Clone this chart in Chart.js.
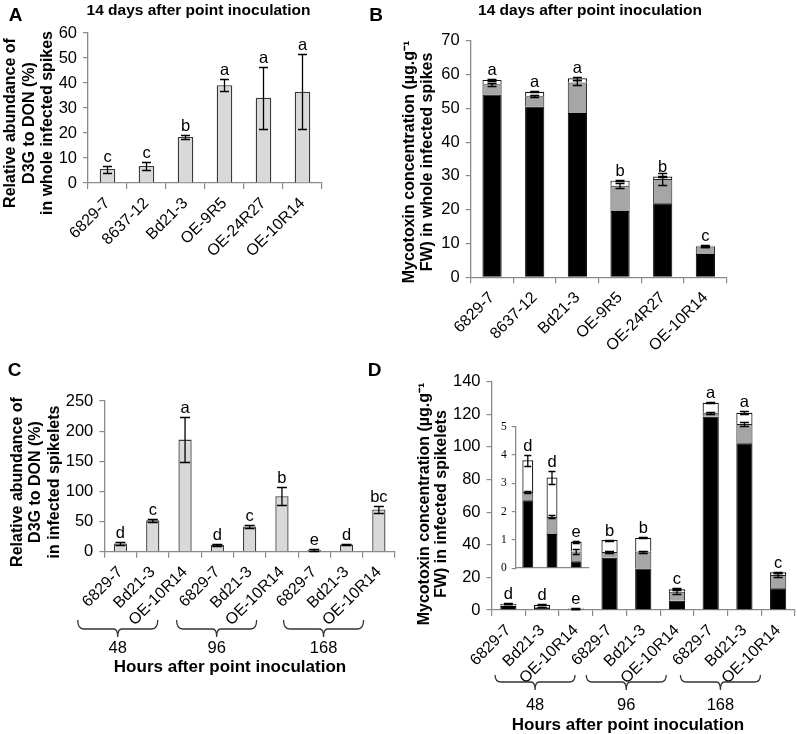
<!DOCTYPE html>
<html><head><meta charset="utf-8">
<script src="https://cdn.jsdelivr.net/npm/chart.js@4/dist/chart.umd.min.js"></script>
<style>
html,body{margin:0;padding:0;background:#fff;}
#wrap{position:relative;width:797px;height:734px;overflow:hidden;font-family:'Liberation Sans',Arial,sans-serif;}
canvas{position:absolute;}
.lbl{position:absolute;transform:translate(-50%,-50%);line-height:1;white-space:nowrap;font-weight:bold;color:#000;}
</style></head><body>
<div id="wrap">
  <canvas id="cA" width="330" height="260" style="left:0;top:0"></canvas>
  <canvas id="cB" width="397" height="370" style="left:400px;top:0"></canvas>
  <canvas id="cC" width="400" height="360" style="left:0;top:330px"></canvas>
  <canvas id="cD" width="397" height="404" style="left:400px;top:330px"></canvas>
  <canvas id="cI" width="115" height="170" style="left:480px;top:410px"></canvas>
  <div class="lbl" style="left:15.5px;top:13.5px;font-size:19px">A</div>
  <div class="lbl" style="left:376px;top:13.5px;font-size:19px">B</div>
  <div class="lbl" style="left:14.5px;top:368.5px;font-size:19px">C</div>
  <div class="lbl" style="left:374.5px;top:368.5px;font-size:19px">D</div>
  <div class="lbl" style="left:198.5px;top:10px;font-size:15.5px">14 days after point inoculation</div>
  <div class="lbl" style="left:590px;top:10px;font-size:15.5px">14 days after point inoculation</div>
</div>
<script>
// ---------- DATA ----------
const catsA = ['6829-7','8637-12','Bd21-3','OE-9R5','OE-24R27','OE-10R14'];
const valsA = [5.6, 6.8, 18.4, 39.1, 34.1, 36.5];
const errA  = [1.4, 1.6, 0.8, 2.4, 12.4, 15.0];
const letA  = ['c','c','b','a','a','a'];

const catsB = ['6829-7','8637-12','Bd21-3','OE-9R5','OE-24R27','OE-10R14'];
const blackB = [54.1, 50.5, 48.6, 19.6, 21.9, 6.9];
const greyB  = [3.0, 3.1, 9.0, 7.5, 7.2, 2.2];
const whiteB = [1.3, 1.3, 1.3, 1.5, 0.7, 0.2];
const errGreyB  = [0.4, 0.3, 0.7, 0.8, 1.8, 0.2];
const errWhiteB = [0.2, 0.2, 0.5, 0.2, 0.2, 0.2];
const letB = ['a','a','a','b','b','c'];

const catsC = ['6829-7','Bd21-3','OE-10R14','6829-7','Bd21-3','OE-10R14','6829-7','Bd21-3','OE-10R14'];
const valsC = [13.8, 52, 186, 11, 42, 92, 2.8, 12, 70];
const errC  = [2, 2, 38, 1.5, 3, 15, 1, 1.5, 6.5];
const letC  = ['d','c','a','d','c','b','e','d','bc'];

const catsD = ['6829-7','Bd21-3','OE-10R14','6829-7','Bd21-3','OE-10R14','6829-7','Bd21-3','OE-10R14'];
const blackD = [2.4, 1.21, 0.24, 32.1, 25.5, 5.7, 118.5, 102.2, 13.3];
const greyD  = [0.29, 0.6, 0.35, 3.5, 10.3, 5.5, 2.4, 11.8, 8.2];
const whiteD = [1.12, 1.39, 0.34, 7.3, 8.5, 1.5, 6.2, 7.0, 1.6];
const errGreyD  = [0.05, 0.05, 0.08, 0.5, 0.6, 1.5, 0.5, 1.2, 1.3];
const errWhiteD = [0.2, 0.22, 0.04, 0.3, 0.3, 0.5, 0.3, 1.0, 0.4];
const letD = ['d','d','e','b','b','c','a','a','c'];

const catsInset = ['6829-7','Bd21-3','OE-10R14'];
const blackI = blackD.slice(0,3), greyI = greyD.slice(0,3), whiteI = whiteD.slice(0,3);
const errGreyI = errGreyD.slice(0,3), errWhiteI = errWhiteD.slice(0,3);
const letI = letD.slice(0,3);

const groups = ['48','96','168'];
const groupMid = [1,4,7];
const xTitle = 'Hours after point inoculation';
const yTitleA = ['Relative abundance of', 'D3G to DON (%)', 'in whole infected spikes'];
const yTitleB = ['Mycotoxin concentration (\u00b5g.g\u207b\u00b9', 'FW) in whole infected spikes'];
const yTitleC = ['Relative abundance of', 'D3G to DON (%)', 'in infected spikelets'];
const yTitleD = ['Mycotoxin concentration (\u00b5g.g\u207b\u00b9', 'FW) in infected spikelets'];

// ---------- helpers ----------
Chart.defaults.font.family = "'Liberation Sans', Arial, sans-serif";
Chart.defaults.color = '#000';
Chart.defaults.animation = false;
const AX = '#8a8a8a';
const FONT = "'Liberation Sans', Arial, sans-serif";
const sumArr = (...arrs) => arrs[0].map((_, i) => arrs.reduce((s, a) => s + a[i], 0));

function scales(o) {
  return {
    x: {
      type: 'category', offset: true, stacked: !!o.stacked,
      grid: {display: true, drawOnChartArea: false, drawTicks: o.xTicks !== false, tickLength: 6, offset: true, color: AX, lineWidth: 1.2},
      border: {display: true, color: AX, width: 1.3},
      ticks: {display: o.xLabels !== false, autoSkip: false, maxRotation: 45, minRotation: 45, padding: 5, color: '#000', font: {size: 16}},
      afterFit: s => { s.height = o.xh; }
    },
    y: {
      min: 0, max: o.max, stacked: !!o.stacked,
      ticks: {stepSize: o.step, color: '#000', font: o.tickFont || {size: 16.5}, padding: o.tpadT || 6},
      grid: {display: true, drawOnChartArea: false, drawTicks: true, tickLength: o.ytl || 5, color: AX, lineWidth: 1.2},
      border: {display: true, color: AX, width: 1.3},
      title: {display: false},
      afterFit: s => { s.width = o.yw; }
    }
  };
}

function annot(cfg) {
  return {
    id: 'annot',
    afterDatasetsDraw(chart) {
      const ctx = chart.ctx, xs = chart.scales.x, ys = chart.scales.y;
      ctx.save();
      ctx.strokeStyle = '#000'; ctx.lineWidth = 1.3;
      cfg.errs.forEach(([centers, errs]) => {
        centers.forEach((c, i) => {
          const e = errs[i]; if (!e) return;
          const px = xs.getPixelForValue(i);
          const y1 = Math.round(ys.getPixelForValue(c + e)) + 0.5;
          const y2 = Math.round(ys.getPixelForValue(Math.max(c - e, 0))) + 0.5;
          ctx.beginPath();
          ctx.moveTo(px, y1); ctx.lineTo(px, y2);
          ctx.moveTo(px - cfg.cap, y1); ctx.lineTo(px + cfg.cap, y1);
          ctx.moveTo(px - cfg.cap, y2); ctx.lineTo(px + cfg.cap, y2);
          ctx.stroke();
        });
      });
      ctx.fillStyle = '#000'; ctx.font = "16.5px " + FONT;
      ctx.textAlign = 'center'; ctx.textBaseline = 'alphabetic';
      cfg.letters.forEach((t, i) => {
        ctx.fillText(t, xs.getPixelForValue(i), ys.getPixelForValue(cfg.letterAt[i]) - 4);
      });
      if (cfg.yt) {
        const t = cfg.yt;
        ctx.font = "bold 16px " + FONT;
        ctx.textBaseline = 'middle';
        t.lines.forEach((ln, k) => {
          ctx.save();
          ctx.translate(t.x[k], t.cy);
          ctx.rotate(-Math.PI / 2);
          ctx.fillText(ln, 0, 0);
          ctx.restore();
        });
      }
      if (cfg.br) {
        const b = cfg.br;
        ctx.strokeStyle = '#333'; ctx.lineWidth = 1.3;
        ctx.textBaseline = 'middle';
        groups.forEach((g, k) => {
          const xc = xs.getPixelForValue(groupMid[k]) + b.dx[k];
          const x0 = xc - b.half, x1 = xc + b.half;
          ctx.beginPath();
          ctx.moveTo(x0, b.yTop);
          ctx.quadraticCurveTo(x0, b.yLine, x0 + 6, b.yLine);
          ctx.lineTo(xc - 4, b.yLine);
          ctx.quadraticCurveTo(xc, b.yLine, xc, b.yTick);
          ctx.quadraticCurveTo(xc, b.yLine, xc + 4, b.yLine);
          ctx.lineTo(x1 - 6, b.yLine);
          ctx.quadraticCurveTo(x1, b.yLine, x1, b.yTop);
          ctx.stroke();
          ctx.font = "16.5px " + FONT;
          ctx.fillText(g, xc, b.yLabel);
        });
        ctx.font = "bold 17px " + FONT;
        ctx.fillText(xTitle, b.titleX, b.titleY);
      }
      ctx.restore();
    }
  };
}

function stackSets(bk, gr, wh) {
  return [
    {data: bk, backgroundColor: '#000', borderColor: '#000', borderWidth: 1},
    {data: gr, backgroundColor: '#a6a6a6', borderColor: '#222', borderWidth: 1, borderSkipped: 'start'},
    {data: wh, backgroundColor: '#fff', borderColor: '#111', borderWidth: 1.2, borderSkipped: 'start'}
  ];
}

function mk(id, cfg) {
  return new Chart(document.getElementById(id), {
    type: 'bar',
    data: {labels: cfg.labels, datasets: cfg.datasets},
    options: {
      responsive: false, animation: false,
      layout: {padding: cfg.pad},
      plugins: {legend: {display: false}, tooltip: {enabled: false}},
      scales: cfg.scales,
      datasets: {bar: {barPercentage: cfg.bp, categoryPercentage: 1}}
    },
    plugins: [annot(cfg.annot)]
  });
}

// ---------- A ----------
mk('cA', {
  labels: catsA,
  datasets: [{data: valsA, backgroundColor: '#d9d9d9', borderColor: '#3a3a3a', borderWidth: 1.3}],
  pad: {left: 0, top: 33, right: 8, bottom: 0}, bp: 0.4,
  scales: scales({xh: 77, yw: 88, max: 60, step: 10}),
  annot: {cap: 4.5, errs: [[valsA, errA]], letters: letA, letterAt: sumArr(valsA, errA),
    yt: {lines: yTitleA, x: [11, 29.5, 48], cy: 123}}
});

// ---------- B ----------
const greyTopB = sumArr(blackB, greyB), topB = sumArr(blackB, greyB, whiteB);
mk('cB', {
  labels: catsB,
  datasets: stackSets(blackB, greyB, whiteB),
  pad: {left: 0, top: 40.7, right: 70.3, bottom: 0}, bp: 0.45,
  scales: scales({stacked: true, xh: 92.7, yw: 70.7, max: 70, step: 10}),
  annot: {cap: 4.5, errs: [[greyTopB, errGreyB], [topB, errWhiteB]], letters: letB, letterAt: sumArr(topB, errWhiteB),
    yt: {lines: yTitleB, x: [10, 27.5], cy: 162}}
});

// ---------- C ----------
mk('cC', {
  labels: catsC,
  datasets: [{data: valsC, backgroundColor: '#d9d9d9', borderColor: '#3a3a3a', borderWidth: 1.3}],
  pad: {left: 0, top: 71, right: 5, bottom: 0}, bp: 0.41,
  scales: scales({xh: 138.3, yw: 104.3, max: 250, step: 50}),
  annot: {cap: 5, errs: [[valsC, errC]], letters: letC, letterAt: sumArr(valsC, errC),
    yt: {lines: yTitleC, x: [17.5, 36, 54.5], cy: 152},
    br: {dx: [-35, -33, -23], half: 40, yTop: 290, yLine: 299, yTick: 307, yLabel: 318, titleX: 230, titleY: 337}}
});

// ---------- D ----------
const greyTopD = sumArr(blackD, greyD), topD = sumArr(blackD, greyD, whiteD);
mk('cD', {
  labels: catsD,
  datasets: stackSets(blackD, greyD, whiteD),
  pad: {left: 0, top: 51.7, right: 2, bottom: 0}, bp: 0.48,
  scales: scales({stacked: true, xh: 124, yw: 91.5, max: 140, step: 20}),
  annot: {cap: 4.5, errs: [[greyTopD, errGreyD], [topD, errWhiteD]], letters: letD, letterAt: sumArr(topD, errWhiteD),
    yt: {lines: yTitleD, x: [25, 42], cy: 174},
    br: {dx: [-7, -17, -24], half: 40, yTop: 345, yLine: 352, yTick: 360, yLabel: 375, titleX: 228, titleY: 395}}
});

// ---------- Inset ----------
const greyTopI = sumArr(blackI, greyI), topI = sumArr(blackI, greyI, whiteI);
mk('cI', {
  labels: catsInset,
  datasets: stackSets(blackI, greyI, whiteI),
  pad: {left: 0, top: 16.7, right: 6.7, bottom: 0}, bp: 0.45,
  scales: scales({stacked: true, xh: 6, yw: 35.7, max: 5, step: 1, xLabels: false, xTicks: false, ytl: 4, tpadT: 5,
    tickFont: {family: "'Liberation Serif', 'Times New Roman', serif", size: 11.5}}),
  annot: {cap: 3.5, errs: [[greyTopI, errGreyI], [topI, errWhiteI]], letters: letI, letterAt: sumArr(topI, errWhiteI)}
});
</script>
</body></html>
